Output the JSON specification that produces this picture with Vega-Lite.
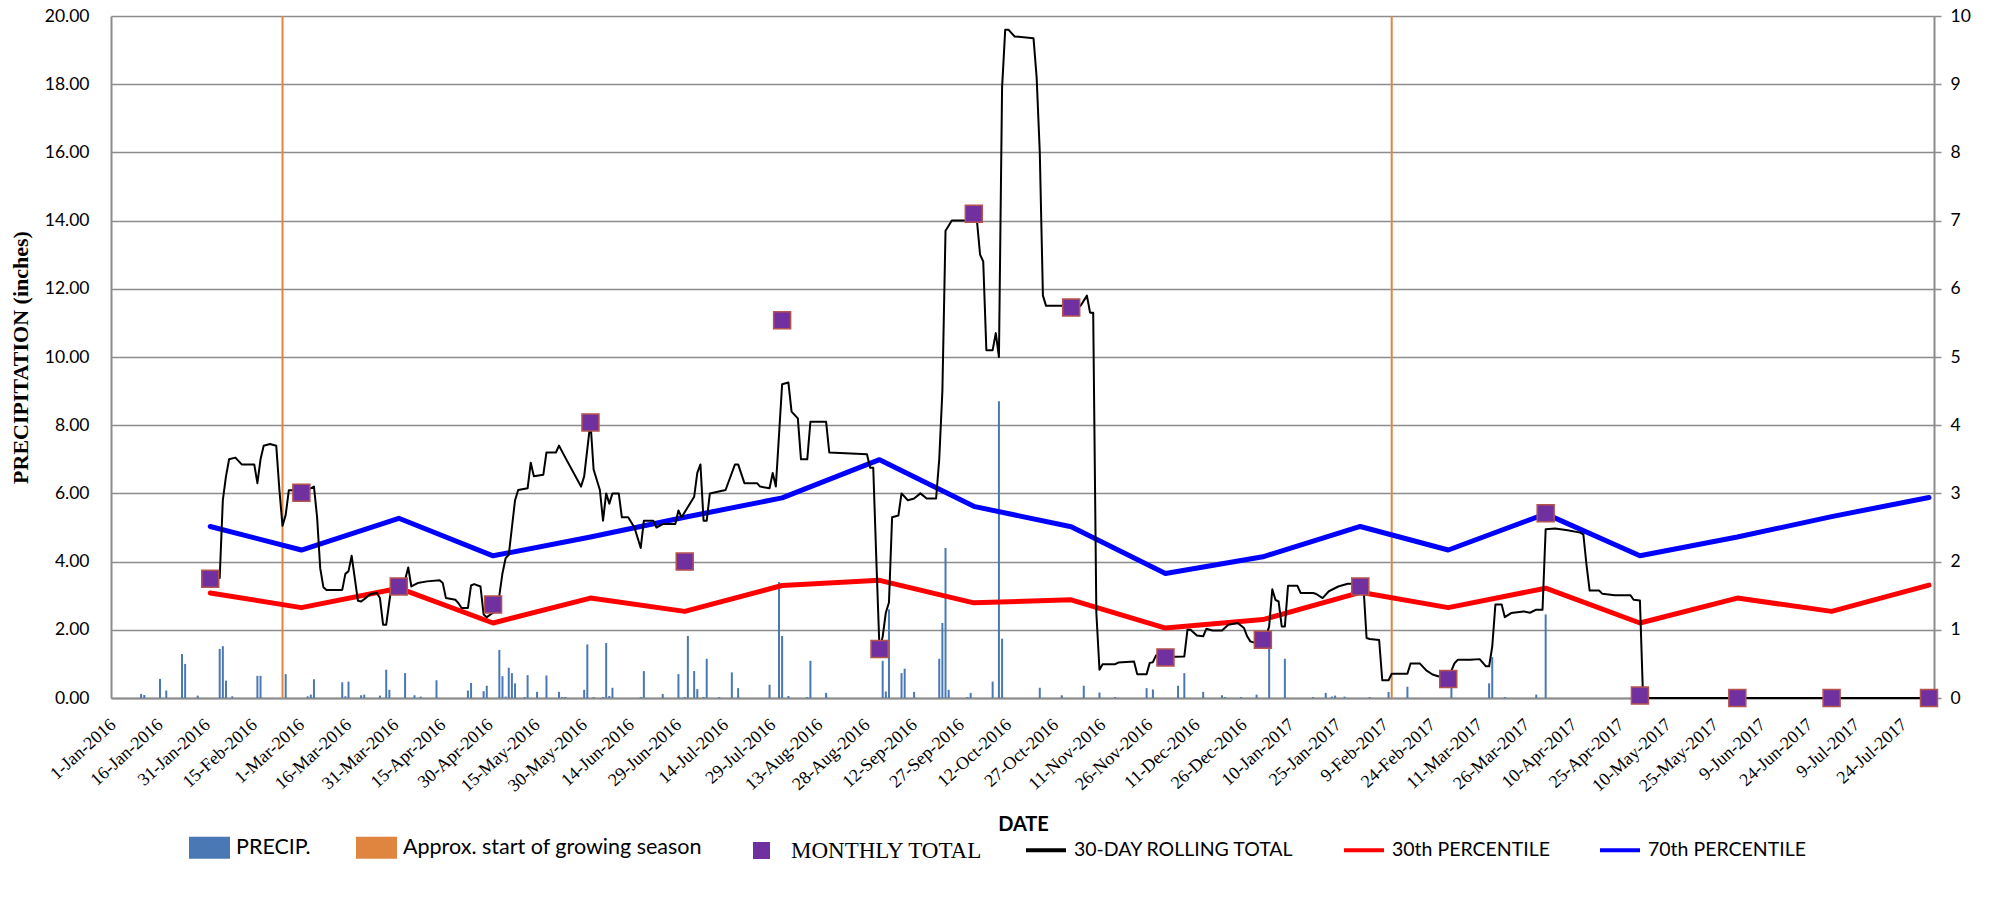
{
  "$schema": "https://vega.github.io/schema/vega-lite/v6.json",
  "width": 1823,
  "height": 682,
  "autosize": {"type": "none"},
  "padding": {"left": 111, "top": 16, "right": 60, "bottom": 200},
  "background": "white",
  "config": {
    "view": {"stroke": null},
    "font": "Lato"
  },
  "datasets": {
    "season": [{"d": "2016-02-23", "v": 10}, {"d": "2017-02-10", "v": 10}],
    "precip": [
      {"d": "2016-01-09", "v": 0.12}, {"d": "2016-01-10", "v": 0.09}, {"d": "2016-01-15", "v": 0.56}, {"d": "2016-01-17", "v": 0.22},
      {"d": "2016-01-22", "v": 1.29}, {"d": "2016-01-23", "v": 1.0}, {"d": "2016-01-27", "v": 0.07}, {"d": "2016-02-03", "v": 1.44},
      {"d": "2016-02-04", "v": 1.52}, {"d": "2016-02-05", "v": 0.51}, {"d": "2016-02-07", "v": 0.05}, {"d": "2016-02-15", "v": 0.65},
      {"d": "2016-02-16", "v": 0.65}, {"d": "2016-02-24", "v": 0.7}, {"d": "2016-03-02", "v": 0.05}, {"d": "2016-03-03", "v": 0.1},
      {"d": "2016-03-04", "v": 0.55}, {"d": "2016-03-13", "v": 0.46}, {"d": "2016-03-14", "v": 0.05}, {"d": "2016-03-15", "v": 0.48},
      {"d": "2016-03-19", "v": 0.08}, {"d": "2016-03-20", "v": 0.1}, {"d": "2016-03-25", "v": 0.07}, {"d": "2016-03-27", "v": 0.83},
      {"d": "2016-03-28", "v": 0.24}, {"d": "2016-04-02", "v": 0.73}, {"d": "2016-04-05", "v": 0.08}, {"d": "2016-04-07", "v": 0.04},
      {"d": "2016-04-12", "v": 0.52}, {"d": "2016-04-22", "v": 0.22}, {"d": "2016-04-23", "v": 0.44}, {"d": "2016-04-27", "v": 0.2},
      {"d": "2016-04-28", "v": 0.36}, {"d": "2016-05-02", "v": 1.41}, {"d": "2016-05-03", "v": 0.64}, {"d": "2016-05-04", "v": 0.04},
      {"d": "2016-05-05", "v": 0.89}, {"d": "2016-05-06", "v": 0.73}, {"d": "2016-05-07", "v": 0.43}, {"d": "2016-05-10", "v": 0.03},
      {"d": "2016-05-11", "v": 0.67}, {"d": "2016-05-14", "v": 0.18}, {"d": "2016-05-17", "v": 0.66}, {"d": "2016-05-21", "v": 0.18},
      {"d": "2016-05-22", "v": 0.03}, {"d": "2016-05-23", "v": 0.03}, {"d": "2016-05-29", "v": 0.24}, {"d": "2016-05-30", "v": 1.57},
      {"d": "2016-06-01", "v": 0.03}, {"d": "2016-06-04", "v": 0.03}, {"d": "2016-06-05", "v": 1.61}, {"d": "2016-06-06", "v": 0.06},
      {"d": "2016-06-07", "v": 0.3}, {"d": "2016-06-16", "v": 0.03}, {"d": "2016-06-17", "v": 0.79}, {"d": "2016-06-23", "v": 0.12},
      {"d": "2016-06-28", "v": 0.7}, {"d": "2016-06-30", "v": 0.03}, {"d": "2016-07-01", "v": 1.82}, {"d": "2016-07-03", "v": 0.79},
      {"d": "2016-07-04", "v": 0.26}, {"d": "2016-07-06", "v": 0.03}, {"d": "2016-07-07", "v": 1.15}, {"d": "2016-07-11", "v": 0.03},
      {"d": "2016-07-15", "v": 0.75}, {"d": "2016-07-17", "v": 0.29}, {"d": "2016-07-27", "v": 0.39}, {"d": "2016-07-30", "v": 3.4},
      {"d": "2016-07-31", "v": 1.82}, {"d": "2016-08-02", "v": 0.06}, {"d": "2016-08-08", "v": 0.03}, {"d": "2016-08-09", "v": 1.09},
      {"d": "2016-08-14", "v": 0.15}, {"d": "2016-09-01", "v": 1.09}, {"d": "2016-09-02", "v": 0.19}, {"d": "2016-09-03", "v": 2.6},
      {"d": "2016-09-07", "v": 0.73}, {"d": "2016-09-08", "v": 0.86}, {"d": "2016-09-11", "v": 0.18}, {"d": "2016-09-19", "v": 1.15},
      {"d": "2016-09-20", "v": 2.2}, {"d": "2016-09-21", "v": 4.4}, {"d": "2016-09-22", "v": 0.24}, {"d": "2016-09-28", "v": 0.03},
      {"d": "2016-09-29", "v": 0.15}, {"d": "2016-10-06", "v": 0.48}, {"d": "2016-10-08", "v": 8.7}, {"d": "2016-10-09", "v": 1.74},
      {"d": "2016-10-21", "v": 0.3}, {"d": "2016-10-28", "v": 0.08}, {"d": "2016-11-04", "v": 0.36}, {"d": "2016-11-09", "v": 0.16},
      {"d": "2016-11-14", "v": 0.03}, {"d": "2016-11-24", "v": 0.29}, {"d": "2016-11-26", "v": 0.25}, {"d": "2016-12-04", "v": 0.36},
      {"d": "2016-12-06", "v": 0.73}, {"d": "2016-12-12", "v": 0.18}, {"d": "2016-12-18", "v": 0.08}, {"d": "2016-12-19", "v": 0.03},
      {"d": "2016-12-24", "v": 0.03}, {"d": "2016-12-29", "v": 0.1}, {"d": "2017-01-02", "v": 1.5}, {"d": "2017-01-07", "v": 1.15},
      {"d": "2017-01-16", "v": 0.03}, {"d": "2017-01-20", "v": 0.15}, {"d": "2017-01-22", "v": 0.04}, {"d": "2017-01-23", "v": 0.07},
      {"d": "2017-01-26", "v": 0.04}, {"d": "2017-02-03", "v": 0.03}, {"d": "2017-02-09", "v": 0.18}, {"d": "2017-02-15", "v": 0.33},
      {"d": "2017-03-01", "v": 0.3}, {"d": "2017-03-13", "v": 0.43}, {"d": "2017-03-14", "v": 1.2}, {"d": "2017-03-18", "v": 0.03},
      {"d": "2017-03-28", "v": 0.1}, {"d": "2017-03-31", "v": 2.45}
    ],
    "monthly": [
      {"d": "2016-01-31", "v": 3.5}, {"d": "2016-02-29", "v": 6.02}, {"d": "2016-03-31", "v": 3.27}, {"d": "2016-04-30", "v": 2.74},
      {"d": "2016-05-31", "v": 8.08}, {"d": "2016-06-30", "v": 4.0}, {"d": "2016-07-31", "v": 11.08}, {"d": "2016-08-31", "v": 1.44},
      {"d": "2016-09-30", "v": 14.2}, {"d": "2016-10-31", "v": 11.45}, {"d": "2016-11-30", "v": 1.19}, {"d": "2016-12-31", "v": 1.71},
      {"d": "2017-01-31", "v": 3.27}, {"d": "2017-02-28", "v": 0.56}, {"d": "2017-03-31", "v": 5.42}, {"d": "2017-04-30", "v": 0.07},
      {"d": "2017-05-31", "v": 0}, {"d": "2017-06-30", "v": 0}, {"d": "2017-07-31", "v": 0}
    ],
    "p30": [
      {"d": "2016-01-31", "v": 3.08}, {"d": "2016-02-29", "v": 2.65}, {"d": "2016-03-31", "v": 3.22}, {"d": "2016-04-30", "v": 2.2},
      {"d": "2016-05-31", "v": 2.93}, {"d": "2016-06-30", "v": 2.54}, {"d": "2016-07-31", "v": 3.3}, {"d": "2016-08-31", "v": 3.45},
      {"d": "2016-09-30", "v": 2.79}, {"d": "2016-10-31", "v": 2.88}, {"d": "2016-11-30", "v": 2.05}, {"d": "2016-12-31", "v": 2.3},
      {"d": "2017-01-31", "v": 3.1}, {"d": "2017-02-28", "v": 2.65}, {"d": "2017-03-31", "v": 3.22}, {"d": "2017-04-30", "v": 2.2},
      {"d": "2017-05-31", "v": 2.93}, {"d": "2017-06-30", "v": 2.54}, {"d": "2017-07-31", "v": 3.31}
    ],
    "p70": [
      {"d": "2016-01-31", "v": 5.03}, {"d": "2016-02-29", "v": 4.34}, {"d": "2016-03-31", "v": 5.27}, {"d": "2016-04-30", "v": 4.17},
      {"d": "2016-05-31", "v": 4.72}, {"d": "2016-06-30", "v": 5.3}, {"d": "2016-07-31", "v": 5.87}, {"d": "2016-08-31", "v": 6.99},
      {"d": "2016-09-30", "v": 5.62}, {"d": "2016-10-31", "v": 5.02}, {"d": "2016-11-30", "v": 3.65}, {"d": "2016-12-31", "v": 4.14},
      {"d": "2017-01-31", "v": 5.03}, {"d": "2017-02-28", "v": 4.34}, {"d": "2017-03-31", "v": 5.4}, {"d": "2017-04-30", "v": 4.17},
      {"d": "2017-05-31", "v": 4.72}, {"d": "2017-06-30", "v": 5.32}, {"d": "2017-07-31", "v": 5.88}
    ],
    "roll": [
      {"d": "2016-01-31", "v": 3.52}, {"d": "2016-02-03", "v": 3.52}, {"d": "2016-02-04", "v": 5.8}, {"d": "2016-02-05", "v": 6.5},
      {"d": "2016-02-06", "v": 7.0}, {"d": "2016-02-08", "v": 7.05}, {"d": "2016-02-10", "v": 6.85}, {"d": "2016-02-14", "v": 6.85},
      {"d": "2016-02-15", "v": 6.3}, {"d": "2016-02-16", "v": 7.0}, {"d": "2016-02-17", "v": 7.4}, {"d": "2016-02-19", "v": 7.45},
      {"d": "2016-02-21", "v": 7.4}, {"d": "2016-02-22", "v": 6.1}, {"d": "2016-02-23", "v": 5.05}, {"d": "2016-02-24", "v": 5.37},
      {"d": "2016-02-25", "v": 6.09}, {"d": "2016-02-27", "v": 6.09}, {"d": "2016-02-29", "v": 6.1}, {"d": "2016-03-02", "v": 6.1},
      {"d": "2016-03-04", "v": 6.2}, {"d": "2016-03-05", "v": 5.3}, {"d": "2016-03-06", "v": 3.8}, {"d": "2016-03-07", "v": 3.25},
      {"d": "2016-03-08", "v": 3.17}, {"d": "2016-03-13", "v": 3.17}, {"d": "2016-03-14", "v": 3.64}, {"d": "2016-03-15", "v": 3.72},
      {"d": "2016-03-16", "v": 4.17}, {"d": "2016-03-18", "v": 2.85}, {"d": "2016-03-19", "v": 2.83}, {"d": "2016-03-20", "v": 2.9},
      {"d": "2016-03-22", "v": 3.05}, {"d": "2016-03-24", "v": 3.08}, {"d": "2016-03-25", "v": 2.93}, {"d": "2016-03-26", "v": 2.15},
      {"d": "2016-03-27", "v": 2.15}, {"d": "2016-03-28", "v": 2.83}, {"d": "2016-03-29", "v": 3.47}, {"d": "2016-03-30", "v": 3.3},
      {"d": "2016-03-31", "v": 3.27}, {"d": "2016-04-02", "v": 3.47}, {"d": "2016-04-03", "v": 3.83}, {"d": "2016-04-04", "v": 3.27},
      {"d": "2016-04-06", "v": 3.37}, {"d": "2016-04-09", "v": 3.42}, {"d": "2016-04-13", "v": 3.45}, {"d": "2016-04-14", "v": 3.37},
      {"d": "2016-04-15", "v": 2.93}, {"d": "2016-04-18", "v": 2.88}, {"d": "2016-04-19", "v": 2.78}, {"d": "2016-04-20", "v": 2.64},
      {"d": "2016-04-22", "v": 2.64}, {"d": "2016-04-23", "v": 3.3}, {"d": "2016-04-24", "v": 3.34}, {"d": "2016-04-26", "v": 3.27},
      {"d": "2016-04-27", "v": 2.45}, {"d": "2016-04-28", "v": 2.37}, {"d": "2016-04-30", "v": 2.5}, {"d": "2016-05-01", "v": 2.7},
      {"d": "2016-05-02", "v": 3.0}, {"d": "2016-05-03", "v": 3.66}, {"d": "2016-05-04", "v": 4.1}, {"d": "2016-05-05", "v": 4.2},
      {"d": "2016-05-06", "v": 5.0}, {"d": "2016-05-07", "v": 5.8}, {"d": "2016-05-08", "v": 6.1}, {"d": "2016-05-11", "v": 6.15},
      {"d": "2016-05-12", "v": 6.9}, {"d": "2016-05-13", "v": 6.5}, {"d": "2016-05-16", "v": 6.55}, {"d": "2016-05-17", "v": 7.2},
      {"d": "2016-05-20", "v": 7.2}, {"d": "2016-05-21", "v": 7.4}, {"d": "2016-05-23", "v": 7.05}, {"d": "2016-05-28", "v": 6.2},
      {"d": "2016-05-29", "v": 6.5}, {"d": "2016-05-31", "v": 8.1}, {"d": "2016-06-01", "v": 6.7}, {"d": "2016-06-03", "v": 6.1},
      {"d": "2016-06-04", "v": 5.2}, {"d": "2016-06-05", "v": 6.0}, {"d": "2016-06-06", "v": 5.7}, {"d": "2016-06-07", "v": 6.0},
      {"d": "2016-06-09", "v": 6.0}, {"d": "2016-06-10", "v": 5.3}, {"d": "2016-06-12", "v": 5.3}, {"d": "2016-06-14", "v": 5.0},
      {"d": "2016-06-16", "v": 4.4}, {"d": "2016-06-17", "v": 5.2}, {"d": "2016-06-20", "v": 5.2}, {"d": "2016-06-21", "v": 5.0},
      {"d": "2016-06-23", "v": 5.1}, {"d": "2016-06-27", "v": 5.1}, {"d": "2016-06-28", "v": 5.5}, {"d": "2016-06-29", "v": 5.3},
      {"d": "2016-07-01", "v": 5.6}, {"d": "2016-07-03", "v": 5.9}, {"d": "2016-07-04", "v": 6.6}, {"d": "2016-07-05", "v": 6.85},
      {"d": "2016-07-06", "v": 5.2}, {"d": "2016-07-07", "v": 5.2}, {"d": "2016-07-08", "v": 6.0}, {"d": "2016-07-13", "v": 6.1},
      {"d": "2016-07-16", "v": 6.85}, {"d": "2016-07-17", "v": 6.85}, {"d": "2016-07-19", "v": 6.3}, {"d": "2016-07-23", "v": 6.3},
      {"d": "2016-07-24", "v": 6.2}, {"d": "2016-07-27", "v": 6.15}, {"d": "2016-07-28", "v": 6.6}, {"d": "2016-07-29", "v": 6.2},
      {"d": "2016-07-31", "v": 9.2}, {"d": "2016-08-02", "v": 9.25}, {"d": "2016-08-03", "v": 8.4}, {"d": "2016-08-05", "v": 8.2},
      {"d": "2016-08-06", "v": 7.0}, {"d": "2016-08-08", "v": 7.0}, {"d": "2016-08-09", "v": 8.1}, {"d": "2016-08-14", "v": 8.1},
      {"d": "2016-08-15", "v": 7.2}, {"d": "2016-08-27", "v": 7.15}, {"d": "2016-08-28", "v": 6.75}, {"d": "2016-08-29", "v": 6.75},
      {"d": "2016-08-30", "v": 4.0}, {"d": "2016-08-31", "v": 1.4}, {"d": "2016-09-01", "v": 1.8}, {"d": "2016-09-02", "v": 2.5},
      {"d": "2016-09-03", "v": 2.8}, {"d": "2016-09-04", "v": 5.3}, {"d": "2016-09-06", "v": 5.35}, {"d": "2016-09-07", "v": 6.0},
      {"d": "2016-09-09", "v": 5.8}, {"d": "2016-09-11", "v": 5.85}, {"d": "2016-09-13", "v": 6.0}, {"d": "2016-09-15", "v": 5.85},
      {"d": "2016-09-18", "v": 5.85}, {"d": "2016-09-19", "v": 7.0}, {"d": "2016-09-20", "v": 9.0}, {"d": "2016-09-21", "v": 13.7},
      {"d": "2016-09-22", "v": 13.85}, {"d": "2016-09-23", "v": 14.0}, {"d": "2016-10-01", "v": 14.0}, {"d": "2016-10-02", "v": 13.0},
      {"d": "2016-10-03", "v": 12.8}, {"d": "2016-10-04", "v": 10.2}, {"d": "2016-10-06", "v": 10.2}, {"d": "2016-10-07", "v": 10.7},
      {"d": "2016-10-08", "v": 10.0}, {"d": "2016-10-09", "v": 17.9}, {"d": "2016-10-10", "v": 19.6}, {"d": "2016-10-11", "v": 19.6},
      {"d": "2016-10-13", "v": 19.4}, {"d": "2016-10-19", "v": 19.35}, {"d": "2016-10-20", "v": 18.2}, {"d": "2016-10-21", "v": 16.0},
      {"d": "2016-10-22", "v": 11.8}, {"d": "2016-10-23", "v": 11.5}, {"d": "2016-10-29", "v": 11.5}, {"d": "2016-11-03", "v": 11.5},
      {"d": "2016-11-05", "v": 11.8}, {"d": "2016-11-06", "v": 11.3}, {"d": "2016-11-07", "v": 11.3}, {"d": "2016-11-08", "v": 2.5},
      {"d": "2016-11-09", "v": 0.83}, {"d": "2016-11-10", "v": 0.99}, {"d": "2016-11-14", "v": 0.99}, {"d": "2016-11-15", "v": 1.04},
      {"d": "2016-11-20", "v": 1.07}, {"d": "2016-11-21", "v": 0.7}, {"d": "2016-11-24", "v": 0.7}, {"d": "2016-11-25", "v": 1.03},
      {"d": "2016-11-26", "v": 1.05}, {"d": "2016-11-27", "v": 1.25}, {"d": "2016-11-30", "v": 1.2}, {"d": "2016-12-06", "v": 1.22},
      {"d": "2016-12-07", "v": 2.0}, {"d": "2016-12-08", "v": 2.0}, {"d": "2016-12-10", "v": 1.83}, {"d": "2016-12-12", "v": 1.81},
      {"d": "2016-12-13", "v": 2.03}, {"d": "2016-12-15", "v": 1.98}, {"d": "2016-12-18", "v": 1.98}, {"d": "2016-12-20", "v": 2.15},
      {"d": "2016-12-23", "v": 2.2}, {"d": "2016-12-25", "v": 2.05}, {"d": "2016-12-26", "v": 1.81}, {"d": "2016-12-27", "v": 1.66},
      {"d": "2016-12-28", "v": 1.63}, {"d": "2016-12-31", "v": 1.72}, {"d": "2017-01-01", "v": 1.8}, {"d": "2017-01-02", "v": 2.1},
      {"d": "2017-01-03", "v": 3.19}, {"d": "2017-01-04", "v": 2.88}, {"d": "2017-01-05", "v": 2.83}, {"d": "2017-01-06", "v": 2.1},
      {"d": "2017-01-07", "v": 2.1}, {"d": "2017-01-08", "v": 3.29}, {"d": "2017-01-11", "v": 3.29}, {"d": "2017-01-12", "v": 3.08},
      {"d": "2017-01-16", "v": 3.08}, {"d": "2017-01-17", "v": 3.05}, {"d": "2017-01-19", "v": 2.93}, {"d": "2017-01-21", "v": 3.13},
      {"d": "2017-01-24", "v": 3.27}, {"d": "2017-01-27", "v": 3.35}, {"d": "2017-01-31", "v": 3.35}, {"d": "2017-02-01", "v": 3.3},
      {"d": "2017-02-02", "v": 1.76}, {"d": "2017-02-03", "v": 1.73}, {"d": "2017-02-06", "v": 1.7}, {"d": "2017-02-07", "v": 0.52},
      {"d": "2017-02-09", "v": 0.52}, {"d": "2017-02-10", "v": 0.71}, {"d": "2017-02-15", "v": 0.71}, {"d": "2017-02-16", "v": 1.01},
      {"d": "2017-02-19", "v": 1.01}, {"d": "2017-02-21", "v": 0.81}, {"d": "2017-02-23", "v": 0.69}, {"d": "2017-02-25", "v": 0.63},
      {"d": "2017-02-28", "v": 0.6}, {"d": "2017-03-01", "v": 0.8}, {"d": "2017-03-02", "v": 1.02}, {"d": "2017-03-03", "v": 1.12},
      {"d": "2017-03-07", "v": 1.12}, {"d": "2017-03-10", "v": 1.14}, {"d": "2017-03-12", "v": 0.93}, {"d": "2017-03-13", "v": 0.93},
      {"d": "2017-03-14", "v": 1.51}, {"d": "2017-03-15", "v": 2.74}, {"d": "2017-03-17", "v": 2.74}, {"d": "2017-03-18", "v": 2.37},
      {"d": "2017-03-20", "v": 2.49}, {"d": "2017-03-24", "v": 2.54}, {"d": "2017-03-26", "v": 2.5}, {"d": "2017-03-28", "v": 2.59},
      {"d": "2017-03-30", "v": 2.59}, {"d": "2017-03-31", "v": 4.95}, {"d": "2017-04-03", "v": 4.97}, {"d": "2017-04-07", "v": 4.92},
      {"d": "2017-04-11", "v": 4.85}, {"d": "2017-04-12", "v": 4.8}, {"d": "2017-04-13", "v": 3.9}, {"d": "2017-04-14", "v": 3.15},
      {"d": "2017-04-17", "v": 3.15}, {"d": "2017-04-18", "v": 3.06}, {"d": "2017-04-22", "v": 3.01}, {"d": "2017-04-27", "v": 3.01},
      {"d": "2017-04-28", "v": 2.88}, {"d": "2017-04-30", "v": 2.86}, {"d": "2017-05-01", "v": 0}, {"d": "2017-07-31", "v": 0}
    ]
  },
  "encoding": {
    "x": {
      "field": "d",
      "type": "temporal",
      "scale": {"type": "utc", "domain": [{"year": 2016, "month": 1, "date": 1, "utc": true}, {"year": 2017, "month": 7, "date": 31, "utc": true}]},
      "axis": {
        "title": "DATE",
        "values": [
          {"year": 2016, "month": 1, "date": 1, "utc": true}, {"year": 2016, "month": 1, "date": 16, "utc": true}, {"year": 2016, "month": 1, "date": 31, "utc": true},
          {"year": 2016, "month": 2, "date": 15, "utc": true}, {"year": 2016, "month": 3, "date": 1, "utc": true}, {"year": 2016, "month": 3, "date": 16, "utc": true},
          {"year": 2016, "month": 3, "date": 31, "utc": true}, {"year": 2016, "month": 4, "date": 15, "utc": true}, {"year": 2016, "month": 4, "date": 30, "utc": true},
          {"year": 2016, "month": 5, "date": 15, "utc": true}, {"year": 2016, "month": 5, "date": 30, "utc": true}, {"year": 2016, "month": 6, "date": 14, "utc": true},
          {"year": 2016, "month": 6, "date": 29, "utc": true}, {"year": 2016, "month": 7, "date": 14, "utc": true}, {"year": 2016, "month": 7, "date": 29, "utc": true},
          {"year": 2016, "month": 8, "date": 13, "utc": true}, {"year": 2016, "month": 8, "date": 28, "utc": true}, {"year": 2016, "month": 9, "date": 12, "utc": true},
          {"year": 2016, "month": 9, "date": 27, "utc": true}, {"year": 2016, "month": 10, "date": 12, "utc": true}, {"year": 2016, "month": 10, "date": 27, "utc": true},
          {"year": 2016, "month": 11, "date": 11, "utc": true}, {"year": 2016, "month": 11, "date": 26, "utc": true}, {"year": 2016, "month": 12, "date": 11, "utc": true},
          {"year": 2016, "month": 12, "date": 26, "utc": true}, {"year": 2017, "month": 1, "date": 10, "utc": true}, {"year": 2017, "month": 1, "date": 25, "utc": true},
          {"year": 2017, "month": 2, "date": 9, "utc": true}, {"year": 2017, "month": 2, "date": 24, "utc": true}, {"year": 2017, "month": 3, "date": 11, "utc": true},
          {"year": 2017, "month": 3, "date": 26, "utc": true}, {"year": 2017, "month": 4, "date": 10, "utc": true}, {"year": 2017, "month": 4, "date": 25, "utc": true},
          {"year": 2017, "month": 5, "date": 10, "utc": true}, {"year": 2017, "month": 5, "date": 25, "utc": true}, {"year": 2017, "month": 6, "date": 9, "utc": true},
          {"year": 2017, "month": 6, "date": 24, "utc": true}, {"year": 2017, "month": 7, "date": 9, "utc": true}, {"year": 2017, "month": 7, "date": 24, "utc": true}
        ],
        "labelExpr": "utcFormat(datum.value, '%-d-%b-%Y')",
        "labelAngle": -42,
        "labelAlign": "right",
        "labelBaseline": "middle",
        "labelFont": "Liberation Serif",
        "labelFontSize": 18,
        "labelColor": "black",
        "labelPadding": 24,
        "labelOffset": -3,
        "labelOverlap": false,
        "labelFlush": false,
        "labelBound": false,
        "ticks": false,
        "grid": false,
        "domainColor": "#8c8c8c",
        "domainWidth": 2,
        "titleFont": "Lato",
        "titleFontWeight": "bold",
        "titleFontSize": 20,
        "titleColor": "black",
        "titleX": 912,
        "titleY": 126,
        "titleBaseline": "middle",
        "encode": {
          "labels": {
            "update": {
              "font": {"value": "Liberation Serif"},
              "fontSize": {"value": 18},
              "angle": {"value": -42},
              "fill": {"value": "black"}
            }
          }
        }
      }
    }
  },
  "layer": [
    {
      "data": {"name": "season"},
      "mark": {"type": "bar", "width": 2},
      "encoding": {
        "y": {
          "field": "v", "type": "quantitative",
          "scale": {"domain": [0, 10], "nice": false},
          "axis": {
            "orient": "right", "title": null, "values": [0, 1, 2, 3, 4, 5, 6, 7, 8, 9, 10], "format": "d",
            "grid": false, "ticks": true, "tickSize": 7, "tickColor": "#8c8c8c", "tickWidth": 1.5,
            "domainColor": "#8c8c8c", "domainWidth": 2,
            "labelFont": "Lato", "labelFontSize": 17.5, "labelColor": "black", "labelPadding": 9
          }
        },
        "fill": {
          "datum": "Approx. start of growing season", "type": "nominal",
          "scale": {"domain": ["PRECIP.", "Approx. start of growing season"], "range": ["#4A78B5", "#E0853F"]},
          "legend": {
            "orient": "none", "legendX": 78, "legendY": 811, "direction": "horizontal", "title": null,
            "symbolType": "M-1,-0.54H1V0.54H-1Z", "symbolSize": 1681, "symbolStrokeWidth": 0,
            "labelFont": "Lato", "labelFontSize": 21.5, "labelColor": "black", "labelOffset": 6, "labelLimit": 500,
            "columnPadding": 45, "padding": 0
          }
        }
      }
    },
    {
      "encoding": {
        "y": {
          "field": "v", "type": "quantitative",
          "scale": {"domain": [0, 20], "nice": false},
          "axis": {
            "orient": "left", "title": "PRECIPITATION (inches)",
            "values": [0, 2, 4, 6, 8, 10, 12, 14, 16, 18, 20], "format": ".2f",
            "grid": true, "gridColor": "#8c8c8c", "gridWidth": 1.5, "ticks": false,
            "domainColor": "#8c8c8c", "domainWidth": 2,
            "labelFont": "Lato", "labelFontSize": 17.5, "labelColor": "black", "labelPadding": 22,
            "titleFont": "Liberation Serif", "titleFontSize": 22, "titleFontWeight": "bold", "titleColor": "black",
            "titleX": -91, "titleY": 341, "titleAngle": -90, "titleAlign": "center", "titleBaseline": "middle"
          }
        }
      },
      "layer": [
        {
          "data": {"name": "precip"},
          "mark": {"type": "bar", "width": 2},
          "encoding": {
            "fill": {
              "datum": "PRECIP.", "type": "nominal",
              "scale": {"domain": ["PRECIP.", "Approx. start of growing season"], "range": ["#4A78B5", "#E0853F"]},
              "legend": {
                "orient": "none", "legendX": 78, "legendY": 811, "direction": "horizontal", "title": null,
                "symbolType": "M-1,-0.54H1V0.54H-1Z", "symbolSize": 1681, "symbolStrokeWidth": 0,
                "labelFont": "Lato", "labelFontSize": 21.5, "labelColor": "black", "labelOffset": 6, "labelLimit": 500,
                "columnPadding": 45, "padding": 0
              }
            }
          }
        },
        {
          "data": {"name": "p30"},
          "mark": {"type": "line", "strokeWidth": 5, "strokeJoin": "round", "strokeCap": "round"},
          "encoding": {
            "stroke": {
              "datum": "30th PERCENTILE", "type": "nominal",
              "scale": {"domain": ["30-DAY ROLLING TOTAL", "30th PERCENTILE", "70th PERCENTILE"], "range": ["#000000", "#FF0000", "#0000FF"]},
              "legend": {
                "orient": "none", "legendX": 913, "legendY": 812, "direction": "horizontal", "title": null,
                "symbolType": "stroke", "symbolSize": 1600, "symbolStrokeWidth": 4,
                "labelFont": "Lato", "labelFontSize": 19.5, "labelColor": "black", "labelOffset": 6, "labelLimit": 500,
                "columnPadding": 42, "padding": 0
              }
            }
          }
        },
        {
          "data": {"name": "p70"},
          "mark": {"type": "line", "strokeWidth": 5, "strokeJoin": "round", "strokeCap": "round"},
          "encoding": {
            "stroke": {
              "datum": "70th PERCENTILE", "type": "nominal",
              "scale": {"domain": ["30-DAY ROLLING TOTAL", "30th PERCENTILE", "70th PERCENTILE"], "range": ["#000000", "#FF0000", "#0000FF"]}
            }
          }
        },
        {
          "data": {"name": "roll"},
          "mark": {"type": "line", "strokeWidth": 2, "strokeJoin": "round"},
          "encoding": {
            "stroke": {
              "datum": "30-DAY ROLLING TOTAL", "type": "nominal",
              "scale": {"domain": ["30-DAY ROLLING TOTAL", "30th PERCENTILE", "70th PERCENTILE"], "range": ["#000000", "#FF0000", "#0000FF"]}
            }
          }
        },
        {
          "data": {"name": "monthly"},
          "mark": {"type": "point", "filled": true, "size": 289, "fill": "#7030A0", "stroke": "#B5534F", "strokeWidth": 1.5, "opacity": 1},
          "encoding": {
            "shape": {
              "datum": "MONTHLY TOTAL", "type": "nominal",
              "scale": {"domain": ["MONTHLY TOTAL"], "range": ["square"]},
              "legend": {
                "orient": "none", "legendX": 639, "legendY": 823, "title": null,
                "symbolSize": 289, "symbolFillColor": "#7030A0", "symbolStrokeColor": "#B5534F", "symbolStrokeWidth": 1.5,
                "labelFont": "Liberation Serif", "labelFontSize": 23, "labelColor": "black", "labelOffset": 18, "labelLimit": 500, "padding": 0
              }
            }
          }
        }
      ]
    }
  ],
  "resolve": {"scale": {"y": "independent"}}
}
